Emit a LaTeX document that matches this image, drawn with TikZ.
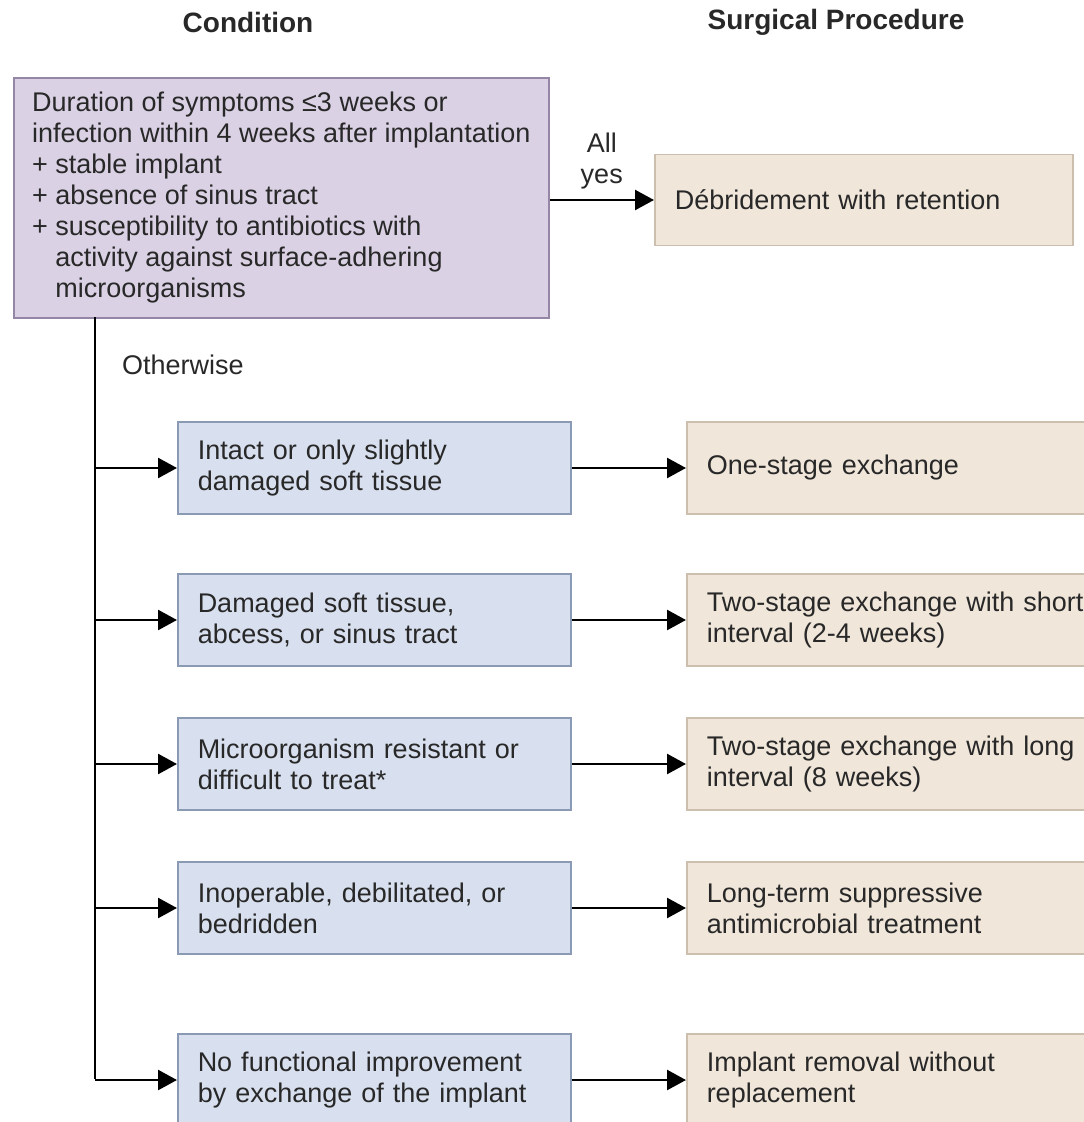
\documentclass[tikz,border=0pt]{standalone}
\usepackage{fontspec}
\setmainfont{Liberation Sans}
\usetikzlibrary{arrows.meta,positioning}
\definecolor{topfill}{RGB}{218,209,228}
\definecolor{topline}{RGB}{150,134,166}
\definecolor{condfill}{RGB}{216,223,238}
\definecolor{condline}{RGB}{138,154,180}
\definecolor{procfill}{RGB}{240,230,218}
\definecolor{procline}{RGB}{205,191,174}
\definecolor{ink}{RGB}{40,40,40}

\begin{document}
\begin{tikzpicture}[x=1pt,y=-1pt,
  every node/.style = {font=\fontsize{27}{31}\selectfont, text=ink},
  box/.style = {draw, line width=1.5pt, align=left, inner xsep=20pt,
    inner ysep=0pt, minimum height=92pt, anchor=west},
  cond/.style = {box, fill=condfill, draw=condline, text width=353pt},
  proc/.style = {box, fill=procfill, draw=procline, text width=400pt},
  head/.style = {font=\fontsize{28}{32}\selectfont\bfseries},
  link/.style = {line width=2.5pt, -{Triangle[length=19pt,width=20pt]}}]
  \clip (0,0) rectangle (1084,1122);
  % column titles
  \node[head] (hcond) at (248,22) {Condition};
  \node[head] (hproc) at (836,22) {Surgical Procedure};
  % first test
  \node[draw=topline, fill=topfill, line width=1.5pt, align=left,
    minimum width=535pt, minimum height=240pt, inner ysep=0pt,
    anchor=north west] (top) at (13,77)
    {Duration of symptoms ≤3 weeks or\\
     infection within 4 weeks after implantation\\
     + stable implant\\
     + absence of sinus tract\\
     + susceptibility to antibiotics with\\
     \phantom{+\ }activity against surface-adhering\\
     \phantom{+\ }microorganisms};
  \node[box, fill=procfill, draw=procline, text width=378pt,
    minimum height=91pt] (debr) at (654,200) {Débridement with retention};
  \draw[link] (top.east |- debr.west) -- node[above=10pt, align=center,
    inner sep=0pt] (allyes) {All\\yes} (debr.west);
  % otherwise branch
  \coordinate (trunk) at (95,317);
  \node[anchor=west, inner sep=0pt] (other) at (122,365) {Otherwise};
  \foreach \n/\y/\cond/\proc in {
    1/468/{Intact or only slightly\\damaged soft tissue}/{One-stage exchange},
    2/620/{Damaged soft tissue,\\abcess, or sinus tract}/{Two-stage exchange with short\\interval (2-4 weeks)},
    3/764/{Microorganism resistant or\\difficult to treat*}/{Two-stage exchange with long\\interval (8 weeks)},
    4/908/{Inoperable, debilitated, or\\bedridden}/{Long-term suppressive\\antimicrobial treatment},
    5/1080/{No functional improvement\\by exchange of the implant}/{Implant removal without\\replacement}}{
    \node[cond] (c\n) at (177,\y) {\cond};
    \node[proc] (p\n) at (686,\y) {\proc};
    \draw[link] (c\n.east) -- (p\n.west);
  }
  \draw[line width=2.5pt] (trunk) -- ([yshift=1.25pt]c5.west -| trunk);
  \foreach \n in {1,...,5}
    \draw[link] (c\n.west -| trunk) -- (c\n.west);
\end{tikzpicture}
\end{document}
